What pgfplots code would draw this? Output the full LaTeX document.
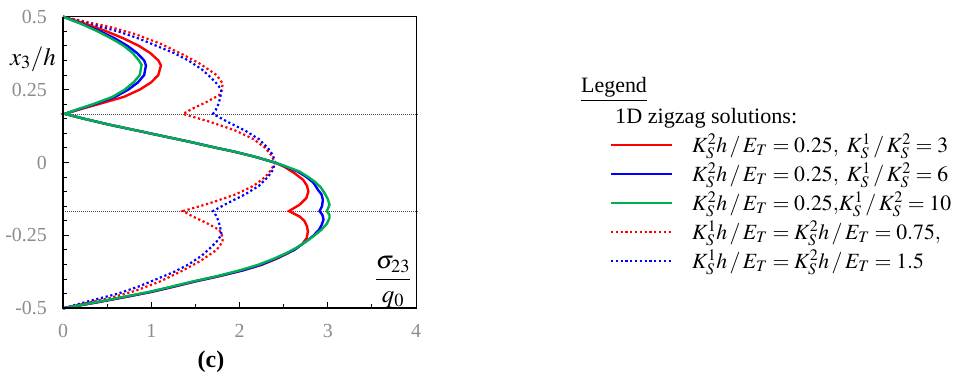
\documentclass[border=0pt]{standalone}
\usepackage{mathptmx}
\usepackage{fontspec}
\setmainfont{Liberation Serif}
\usepackage{graphicx}
\usepackage{pgfplots}
\pgfplotsset{compat=1.18}
\definecolor{cR}{RGB}{255,0,0}
\definecolor{cB}{RGB}{0,0,255}
\definecolor{cG}{RGB}{0,176,80}
\definecolor{tgray}{RGB}{140,140,140}
\begin{document}
\begin{tikzpicture}[x=1bp,y=1bp]
\path[use as bounding box] (0,0) rectangle (960,376);
\begin{axis}[
  at={(63bp,67.7bp)}, anchor=south west,
  scale only axis, width=353bp, height=291.6bp,
  xmin=0, xmax=4, ymin=-0.5, ymax=0.5,
  xtick={0,1,2,3,4}, minor x tick num=1,
  ytick={-0.5,-0.25,0,0.25,0.5}, yticklabels={-0.5,-0.25,0,0.25,0.5},
  minor y tick num=4,
  xtick pos=bottom, ytick pos=left,
  tick align=inside,
  major tick length=6bp, minor tick length=4bp,
  tick style={black, line width=1bp},
  axis line style={line width=0.8bp},
  /pgf/number format/assume math mode=true,
  ticklabel style={font=\fontsize{20}{20}\selectfont, text=tgray, inner sep=0pt},
  yticklabel style={xshift=-16bp},
  xticklabel style={yshift=-16bp},
  clip=false,
]
\addplot[black!70, line width=0.7bp, dash pattern=on 1bp off 1bp] coordinates {(0,0.16667) (4.02,0.16667)};
\addplot[black!70, line width=0.7bp, dash pattern=on 1bp off 1bp] coordinates {(0,-0.16667) (4.02,-0.16667)};
% red dotted
\addplot[cR, line width=2.2bp, dash pattern=on 2.2bp off 2.6bp] coordinates {
(0,0.5) (0.34,0.477) (0.53,0.465) (0.82,0.44) (1.10,0.408) (1.36,0.37) (1.55,0.339) (1.74,0.30) (1.81,0.271) (1.80,0.25) (1.77,0.231) (1.63,0.208) (1.47,0.185) (1.36,0.1667)
(1.66,0.14) (1.95,0.11) (2.16,0.08) (2.29,0.05) (2.36,0.025) (2.40,0) (2.36,-0.025) (2.29,-0.05) (2.16,-0.08) (1.95,-0.11) (1.66,-0.14) (1.36,-0.1667)
(1.47,-0.185) (1.63,-0.208) (1.77,-0.231) (1.80,-0.25) (1.81,-0.271) (1.74,-0.30) (1.55,-0.339) (1.36,-0.37) (1.10,-0.408) (0.82,-0.44) (0.53,-0.465) (0.34,-0.477) (0,-0.5)};
% blue dotted
\addplot[cB, line width=2.2bp, dash pattern=on 2.2bp off 2.6bp] coordinates {
(0,0.5) (0.30,0.475) (0.62,0.45) (0.86,0.425) (1.06,0.4) (1.26,0.375) (1.42,0.35) (1.57,0.32) (1.68,0.29) (1.76,0.265) (1.795,0.245) (1.78,0.22) (1.757,0.197) (1.73,0.18) (1.70,0.1667)
(1.86,0.14) (2.06,0.11) (2.22,0.08) (2.32,0.05) (2.38,0.025) (2.40,0) (2.38,-0.025) (2.32,-0.05) (2.22,-0.08) (2.06,-0.11) (1.86,-0.14) (1.70,-0.1667)
(1.73,-0.18) (1.757,-0.197) (1.78,-0.22) (1.795,-0.245) (1.76,-0.265) (1.68,-0.29) (1.57,-0.32) (1.42,-0.35) (1.26,-0.375) (1.06,-0.4) (0.86,-0.425) (0.62,-0.45) (0.30,-0.475) (0,-0.5)};
% red solid
\addplot[cR, line width=2.4bp] coordinates {
(0,0.5) (0.26,0.475) (0.49,0.45) (0.69,0.425) (0.86,0.4) (0.99,0.375) (1.08,0.35) (1.11,0.333) (1.08,0.3) (1.0,0.275) (0.87,0.25) (0.69,0.225) (0.40,0.2) (0.20,0.183) (0.02,0.1667)
(0.24,0.15) (0.52,0.13) (0.83,0.11) (1.14,0.09) (1.45,0.07) (1.74,0.05) (1.93,0.038) (2.17,0.02) (2.40,0) (2.51,-0.015) (2.62,-0.036) (2.72,-0.059) (2.765,-0.08) (2.78,-0.1) (2.757,-0.122) (2.68,-0.145) (2.56,-0.1667)
(2.68,-0.185) (2.735,-0.2) (2.765,-0.219) (2.775,-0.237) (2.76,-0.26) (2.71,-0.28) (2.64,-0.295) (2.55,-0.311) (2.42,-0.33) (2.25,-0.351) (2.04,-0.37) (1.77,-0.39) (1.50,-0.408) (1.20,-0.43) (1.00,-0.444) (0.73,-0.46) (0.38,-0.48) (0,-0.5)};
% blue solid
\addplot[cB, line width=2.4bp] coordinates {
(0,0.5) (0.22,0.475) (0.42,0.45) (0.59,0.425) (0.73,0.4) (0.84,0.375) (0.92,0.35) (0.94,0.333) (0.92,0.3) (0.85,0.275) (0.74,0.25) (0.59,0.225) (0.36,0.2) (0.18,0.183) (0.02,0.1667)
(0.24,0.15) (0.52,0.13) (0.83,0.11) (1.14,0.09) (1.45,0.07) (1.74,0.05) (1.93,0.038) (2.17,0.02) (2.40,0) (2.53,-0.015) (2.66,-0.031) (2.76,-0.05) (2.84,-0.07) (2.89,-0.094) (2.93,-0.11) (2.945,-0.128) (2.935,-0.15) (2.907,-0.1667)
(2.94,-0.18) (2.952,-0.196) (2.93,-0.215) (2.90,-0.231) (2.84,-0.25) (2.78,-0.265) (2.71,-0.28) (2.62,-0.30) (2.54,-0.311) (2.41,-0.33) (2.24,-0.351) (2.03,-0.37) (1.76,-0.39) (1.49,-0.408) (1.19,-0.43) (0.99,-0.444) (0.72,-0.46) (0.37,-0.48) (0,-0.5)};
% green solid
\addplot[cG, line width=2.4bp] coordinates {
(0,0.5) (0.21,0.475) (0.39,0.45) (0.55,0.425) (0.69,0.4) (0.79,0.375) (0.86,0.35) (0.89,0.335) (0.87,0.3) (0.80,0.275) (0.70,0.25) (0.56,0.225) (0.34,0.2) (0.17,0.183) (0.02,0.1667)
(0.24,0.15) (0.52,0.13) (0.83,0.11) (1.14,0.09) (1.45,0.07) (1.74,0.05) (1.93,0.038) (2.17,0.02) (2.40,0) (2.54,-0.015) (2.68,-0.031) (2.78,-0.05) (2.85,-0.065) (2.92,-0.085) (2.964,-0.105) (3.0,-0.125) (3.02,-0.145) (2.99,-0.1667)
(3.02,-0.18) (3.02,-0.19) (2.99,-0.21) (2.93,-0.23) (2.85,-0.25) (2.76,-0.27) (2.66,-0.29) (2.53,-0.311) (2.39,-0.33) (2.21,-0.351) (2.00,-0.37) (1.74,-0.39) (1.47,-0.408) (1.17,-0.43) (0.97,-0.444) (0.70,-0.46) (0.36,-0.48) (0,-0.5)};
\draw[line width=2bp, black] (rel axis cs:0,1) -- (rel axis cs:0,0) -- (rel axis cs:1,0);
\node at (axis cs:3.74,-0.41) {\fontsize{25}{25}\selectfont$\displaystyle\frac{\sigma_{23}}{q_0}$};
\end{axis}
\node at (33,317) {\fontsize{25}{25}\selectfont$x_3/h$};
\node at (211,14) {\fontsize{24}{24}\selectfont\bfseries(c)};
% legend
\node[anchor=base west, inner sep=0pt] at (581,283.3) {\fontsize{22}{22}\selectfont\underline{Legend}};
\node[anchor=base west, inner sep=0pt] at (615,252.7) {\resizebox{182bp}{\height}{\fontsize{22}{22}\selectfont 1D zigzag solutions:}};
\draw[cR, line width=2.4bp] (611,231) -- (672,231);
\draw[cB, line width=2.4bp] (611,202) -- (672,202);
\draw[cG, line width=2.4bp] (611,173) -- (672,173);
\draw[cR, line width=2.2bp, dash pattern=on 2.2bp off 2.6bp] (611,144) -- (672,144);
\draw[cB, line width=2.2bp, dash pattern=on 2.2bp off 2.6bp] (611,115) -- (672,115);
\begin{scope}[every node/.style={anchor=base west, inner sep=0pt, font=\fontsize{21.8}{22}\selectfont}]
\node at (692,224) {$K_S^2h \,/\, E_T = 0.25,\ K_S^1 \,/\, K_S^2 = 3$};
\node at (692,195) {$K_S^2h \,/\, E_T = 0.25,\ K_S^1 \,/\, K_S^2 = 6$};
\node at (692,166) {$K_S^2h \,/\, E_T = 0.25{,}K_S^1 \,/\, K_S^2 =10$};
\node at (692,137) {$K_S^1h \,/\, E_T = K_S^2h \,/\, E_T = 0.75,$};
\node at (692,108) {$K_S^1h \,/\, E_T = K_S^2h \,/\, E_T =1.5$};
\end{scope}
\end{tikzpicture}
\end{document}
